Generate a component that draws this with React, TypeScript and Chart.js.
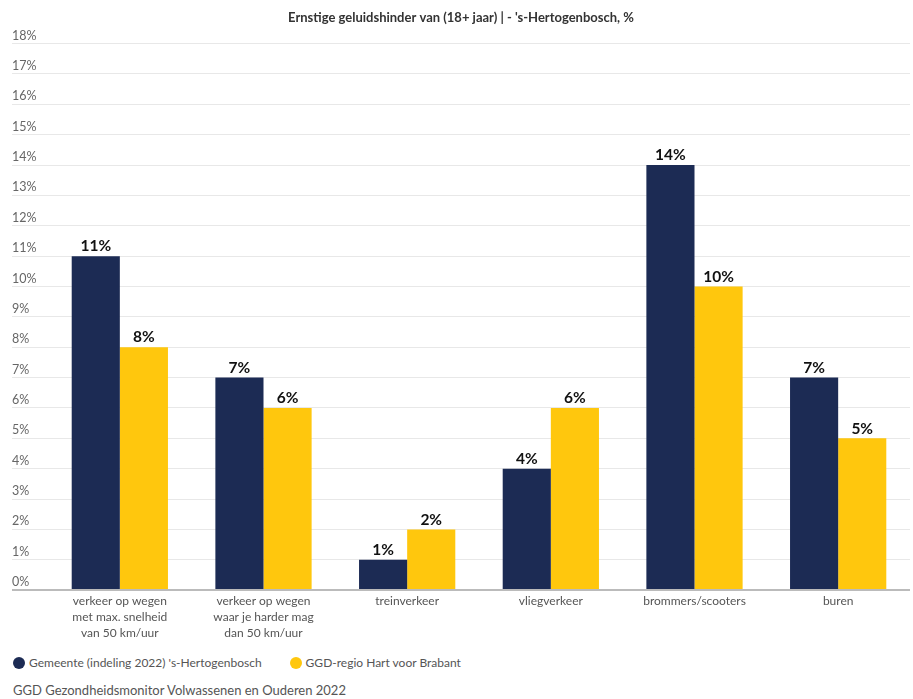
import React, { useEffect, useRef } from "react";
import { Chart, registerables } from "chart.js";

Chart.register(...registerables);

const categories: string[][] = [
  ["verkeer op wegen", "met max. snelheid", "van 50 km/uur"],
  ["verkeer op wegen", "waar je harder mag", "dan 50 km/uur"],
  ["treinverkeer"],
  ["vliegverkeer"],
  ["brommers/scooters"],
  ["buren"],
];
const gemeenteValues = [11, 7, 1, 4, 14, 7];
const regioValues = [8, 6, 2, 6, 10, 5];
const seriesNames = ["Gemeente (indeling 2022) 's-Hertogenbosch", "GGD-regio Hart voor Brabant"];
const titleText = "Ernstige geluidshinder van (18+ jaar) | - 's-Hertogenbosch, %";
const sourceText = "GGD Gezondheidsmonitor Volwassenen en Ouderen 2022";

const FONT = "Lato, 'Noto Sans', sans-serif";
const NAVY = "#1c2b54";
const YELLOW = "#ffc70d";
const COLORS = [NAVY, YELLOW];

const valueLabels = {
  id: "valueLabels",
  afterDatasetsDraw(chart: any) {
    const ctx = chart.ctx;
    ctx.save();
    ctx.font = `bold 15.5px ${FONT}`;
    ctx.fillStyle = "#111";
    ctx.textAlign = "center";
    ctx.textBaseline = "bottom";
    chart.data.datasets.forEach((ds: any, di: number) => {
      const meta = chart.getDatasetMeta(di);
      meta.data.forEach((el: any, i: number) => {
        ctx.fillText(`${ds.data[i]}%`, el.x, el.y - 2);
      });
    });
    ctx.restore();
  },
};

export default function App() {
  const ref = useRef<HTMLCanvasElement>(null);
  useEffect(() => {
    document.body.style.margin = "0";
    const chart = new Chart(ref.current!, {
      type: "bar",
      data: {
        labels: categories,
        datasets: [
          { label: seriesNames[0], data: gemeenteValues, backgroundColor: NAVY, categoryPercentage: 0.67, barPercentage: 1 },
          { label: seriesNames[1], data: regioValues, backgroundColor: YELLOW, categoryPercentage: 0.67, barPercentage: 1 },
        ],
      },
      plugins: [valueLabels],
      options: {
        animation: false,
        responsive: true,
        maintainAspectRatio: false,
        layout: { padding: { left: 12, right: 3, top: 4, bottom: 1 } },
        plugins: {
          title: {
            display: true,
            text: titleText,
            color: "#333",
            font: { family: FONT, size: 13, weight: "bold" },
            padding: { top: 6, bottom: 18 },
          },
          legend: { display: false },
          tooltip: { enabled: false },
        },
        scales: {
          x: {
            grid: { display: false, drawTicks: false },
            border: { display: false },
            ticks: {
              color: "#555",
              font: { family: FONT, size: 12, lineHeight: 1.33 },
              maxRotation: 0,
              autoSkip: false,
              padding: 3,
            },
          },
          y: {
            min: 0,
            max: 18,
            afterFit: (scale: any) => {
              scale.width = 36;
            },
            border: { display: false },
            grid: {
              drawTicks: true,
              tickLength: 36,
              color: (c: any) => (c.tick && c.tick.value === 0 ? "#bbb" : "#e8e8e8"),
              lineWidth: (c: any) => (c.tick && c.tick.value === 0 ? 2 : 1),
            },
            ticks: {
              stepSize: 1,
              crossAlign: "far",
              labelOffset: -8,
              color: "#666",
              font: { family: FONT, size: 12.5 },
              callback: (v: any) => `${v}%`,
            },
          },
        },
      },
    } as any);
    return () => chart.destroy();
  }, []);
  const textStyle: React.CSSProperties = { fontFamily: FONT, color: "#555" };
  return (
    <div style={{ width: 913, height: 699, position: "relative" }}>
      <div style={{ position: "absolute", left: 0, top: 0, width: 913, height: 645 }}>
        <canvas ref={ref} />
      </div>
      <div style={{ position: "absolute", left: 13, top: 654, display: "flex", alignItems: "center", ...textStyle, fontSize: 12, lineHeight: "18px" }}>
        {seriesNames.map((name, i) => (
          <div key={name} style={{ display: "flex", alignItems: "center", marginRight: 28 }}>
            <span style={{ width: 12, height: 12, borderRadius: 6, background: COLORS[i], display: "inline-block", marginRight: 4 }} />
            <span>{name}</span>
          </div>
        ))}
      </div>
      <div style={{ position: "absolute", left: 13, top: 681, ...textStyle, fontSize: 13, lineHeight: "18px" }}>
        {sourceText}
      </div>
    </div>
  );
}
